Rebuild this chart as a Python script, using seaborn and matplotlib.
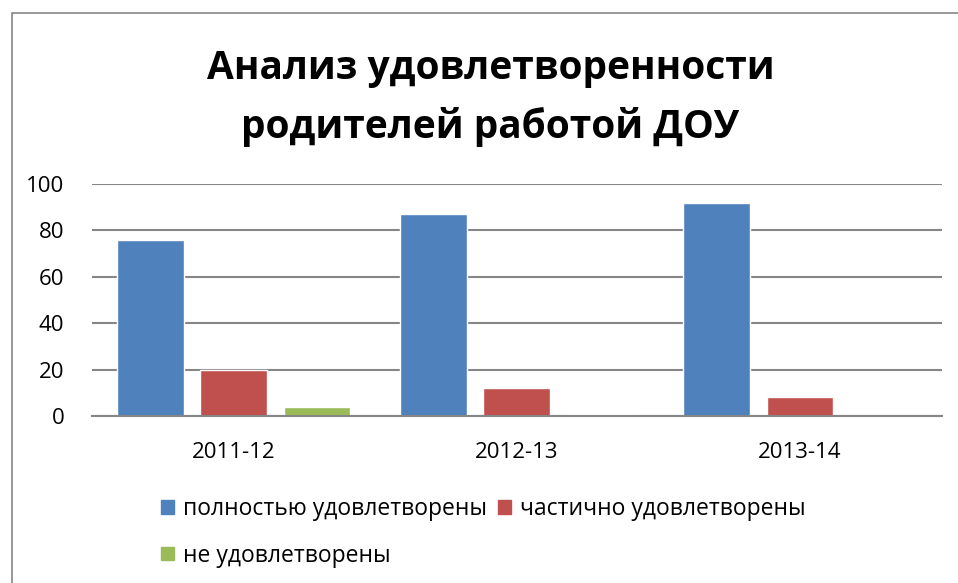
import matplotlib
matplotlib.use("Agg")
import matplotlib.pyplot as plt
import seaborn as sns
import pandas as pd
from matplotlib.patches import Rectangle, Patch

# data
years = ["2011-12", "2012-13", "2013-14"]
series = ["полностью удовлетворены", "частично удовлетворены", "не удовлетворены"]
full = [76, 87, 92]
partial = [20, 12, 8]
none_ = [4, 1, 0]
colors = ["#4F81BD", "#C0504D", "#9BBB59"]

df = pd.DataFrame({
    "year": years * 3,
    "group": [series[0]] * 3 + [series[1]] * 3 + [series[2]] * 3,
    "value": full + partial + none_,
})

sns.set_style("white")
plt.rcParams["font.family"] = ["Open Sans", "DejaVu Sans"]
plt.rcParams["text.color"] = "black"

fig = plt.figure(figsize=(9.58, 5.83), dpi=100)
ax = fig.add_axes([0.096, 0.2864, 0.887, 0.398])

sns.barplot(data=df, x="year", y="value", hue="group", palette=colors,
            width=0.884, gap=0.2, ax=ax, legend=False, saturation=1)

ax.set_ylim(0, 100)
ax.set_yticks(range(0, 101, 20))
ax.set_xlabel("")
ax.set_ylabel("")
ax.grid(axis="y", color="#868686", linewidth=1.5)
ax.set_axisbelow(True)
for s in ["top", "right", "left"]:
    ax.spines[s].set_visible(False)
ax.spines["bottom"].set_color("#868686")
ax.spines["bottom"].set_linewidth(1.5)
ax.tick_params(axis="both", length=0, labelsize=16, colors="black")
ax.tick_params(axis="y", pad=20)
ax.tick_params(axis="x", pad=19)

fig.text(0.512, 0.832, "Анализ удовлетворенности\nродителей работой ДОУ",
         ha="center", va="center", fontsize=28, fontweight="bold",
         color="black", linespacing=1.6)

handles = [Patch(color=c) for c in colors]
# order so the legend fills row by row: A B / C
fig.legend([handles[0], handles[2], handles[1]],
           [series[0], series[2], series[1]],
           ncol=2, loc="upper left", bbox_to_anchor=(0.168, 0.148),
           frameon=False, fontsize=16.5, handlelength=0.55, handleheight=0.55,
           handletextpad=0.4, columnspacing=0.5, labelspacing=1.0,
           borderaxespad=0, borderpad=0)

# outer chart frame
fig.patches.append(Rectangle((12 / 958, -0.05), 1.1, 1 - 13 / 583 + 0.05,
                             transform=fig.transFigure, fill=False,
                             edgecolor="#868686", linewidth=1.2))

fig.savefig("out.png", dpi=100)
